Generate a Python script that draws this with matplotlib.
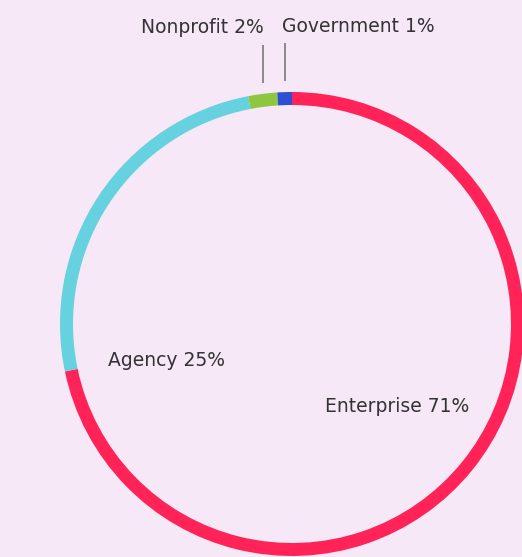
import numpy as np
import matplotlib.pyplot as plt

segments = ["Enterprise", "Agency", "Nonprofit", "Government"]
shares = [71, 25, 2, 1]
colors = ["#ff2358", "#66d1df", "#8ec63f", "#2c4fd4"]

W, H = 522, 557
cx, cy = 292, H - 324
R = 232
ring = 13

fig = plt.figure(figsize=(W / 100, H / 100), dpi=100)
fig.patch.set_facecolor("#f6e8f6")
ax = fig.add_axes([0, 0, 1, 1])
ax.set_facecolor("#f6e8f6")

wedges, _ = ax.pie(shares, colors=colors, startangle=90, counterclock=False,
                   center=(cx, cy), radius=R,
                   wedgeprops=dict(width=ring, edgecolor="none", linewidth=0))

ax.set_xlim(0, W)
ax.set_ylim(0, H)
ax.set_aspect("equal")
ax.axis("off")

font = dict(family=["DejaVu Sans"], fontsize=13.5, color="#333333")

def label_of(i):
    return f"{segments[i]} {shares[i]}%"

# small slices: vertical leader lines above the ring
for i, ha, dx, text_gap in [(2, "right", 1, 17), (3, "left", -3, 17)]:
    w = wedges[i]
    mid = np.deg2rad((w.theta1 + w.theta2) / 2)
    x = cx + R * np.cos(mid)
    y_ring = cy + np.sqrt(R ** 2 - (x - cx) ** 2)
    y0 = y_ring + 11
    y1 = y0 + 38
    ax.plot([x, x], [y0, y1], color="#8a8a8a", lw=1.4, solid_capstyle="butt")
    ax.text(x + dx, y1 + text_gap, label_of(i), ha=ha, va="center", **font)

# large slices: labels inside the ring
ax.text(cx - 126, cy - 37, label_of(1), ha="center", va="center", **font)
ax.text(cx + 105, cy - 82, label_of(0), ha="center", va="center", **font)

fig.savefig("out.png", dpi=100, facecolor=fig.get_facecolor())
